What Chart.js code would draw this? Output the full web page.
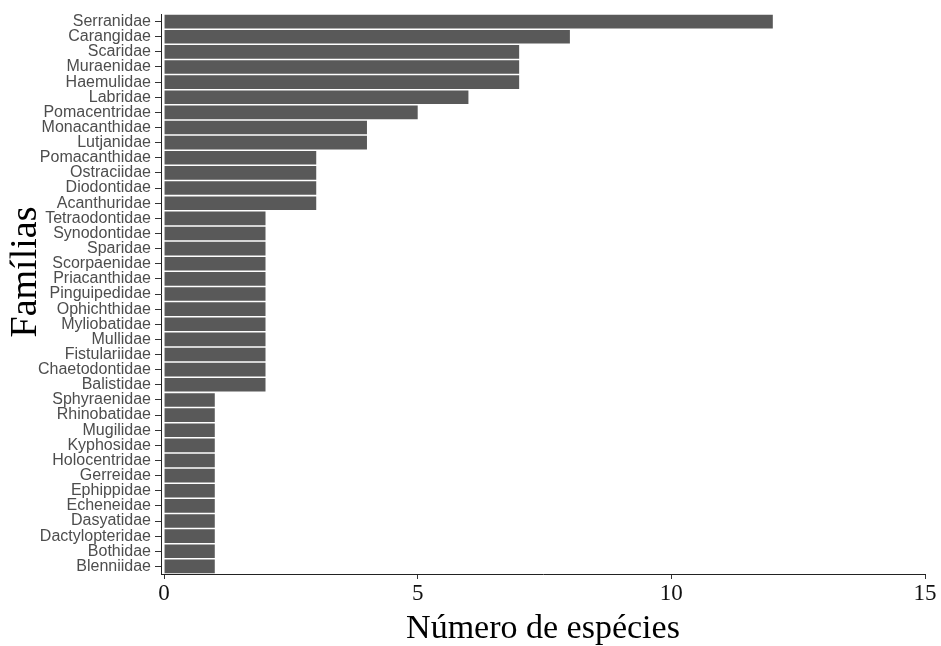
<!DOCTYPE html>
<html>
<head>
<meta charset="utf-8">
<script src="https://cdn.jsdelivr.net/npm/chart.js@4"></script>
<style>
  html, body { margin: 0; padding: 0; background: #fff; }
  #wrap { width: 941px; height: 646px; }
</style>
</head>
<body>
<div id="wrap"><canvas id="c" width="941" height="646"></canvas></div>
<script>
// Fish families and number of species recorded in each
const families = [
  'Serranidae', 'Carangidae', 'Scaridae', 'Muraenidae', 'Haemulidae', 'Labridae',
  'Pomacentridae', 'Monacanthidae', 'Lutjanidae', 'Pomacanthidae', 'Ostraciidae',
  'Diodontidae', 'Acanthuridae', 'Tetraodontidae', 'Synodontidae', 'Sparidae',
  'Scorpaenidae', 'Priacanthidae', 'Pinguipedidae', 'Ophichthidae', 'Myliobatidae',
  'Mullidae', 'Fistulariidae', 'Chaetodontidae', 'Balistidae', 'Sphyraenidae',
  'Rhinobatidae', 'Mugilidae', 'Kyphosidae', 'Holocentridae', 'Gerreidae',
  'Ephippidae', 'Echeneidae', 'Dasyatidae', 'Dactylopteridae', 'Bothidae', 'Blenniidae'
];
const speciesCount = [
  12, 8, 7, 7, 7, 6,
  5, 4, 4, 3, 3,
  3, 3, 2, 2, 2,
  2, 2, 2, 2, 2,
  2, 2, 2, 2, 1,
  1, 1, 1, 1, 1,
  1, 1, 1, 1, 1, 1
];
const xTicks = [0, 5, 10, 15];

const xTitle = 'Número de espécies';
const yTitle = 'Famílias';

// Rotated y-axis title, drawn beside the family names
const yTitlePlugin = {
  id: 'yTitle',
  afterDraw(chart) {
    const ctx = chart.ctx;
    ctx.save();
    ctx.translate(26, 272);
    ctx.rotate(-Math.PI / 2);
    ctx.font = '38px "Liberation Serif", "Times New Roman", serif';
    ctx.fillStyle = '#000';
    ctx.textAlign = 'center';
    ctx.textBaseline = 'middle';
    ctx.fillText(yTitle, 0, 0);
    ctx.restore();
  }
};

new Chart(document.getElementById('c'), {
  type: 'bar',
  data: {
    labels: families,
    datasets: [{
      data: speciesCount,
      backgroundColor: '#595959',
      borderWidth: 0,
      categoryPercentage: 1,
      barPercentage: 0.9
    }]
  },
  options: {
    indexAxis: 'y',
    responsive: false,
    animation: false,
    layout: { padding: { top: 14, right: 16, left: 0, bottom: 0 } },
    plugins: { legend: { display: false }, tooltip: { enabled: false } },
    scales: {
      x: {
        type: 'linear',
        min: -0.06,
        max: 15,
        afterBuildTicks(scale) { scale.ticks = xTicks.map(v => ({ value: v })); },
        afterFit(scale) { scale.height = 72; },
        border: { display: true, color: '#222', width: 1 },
        grid: { drawOnChartArea: false, drawTicks: true, tickLength: 5, color: '#333' },
        ticks: {
          padding: 1,
          color: '#111',
          font: { family: '"Liberation Serif", "Times New Roman", serif', size: 23 }
        },
        title: {
          display: true,
          text: xTitle,
          color: '#000',
          font: { family: '"Liberation Serif", "Times New Roman", serif', size: 34, lineHeight: 1 },
          padding: { top: 0, bottom: 0 }
        }
      },
      y: {
        afterFit(scale) { scale.width = 161; },
        border: { display: true, color: '#222', width: 1 },
        grid: { offset: false, drawOnChartArea: false, drawTicks: true, tickLength: 6, color: '#333' },
        ticks: {
          padding: 4,
          autoSkip: false,
          color: '#4d4d4d',
          font: { family: '"Liberation Sans", Arial, sans-serif', size: 16, lineHeight: 1 }
        }
      }
    }
  },
  plugins: [yTitlePlugin]
});
</script>
</body>
</html>
